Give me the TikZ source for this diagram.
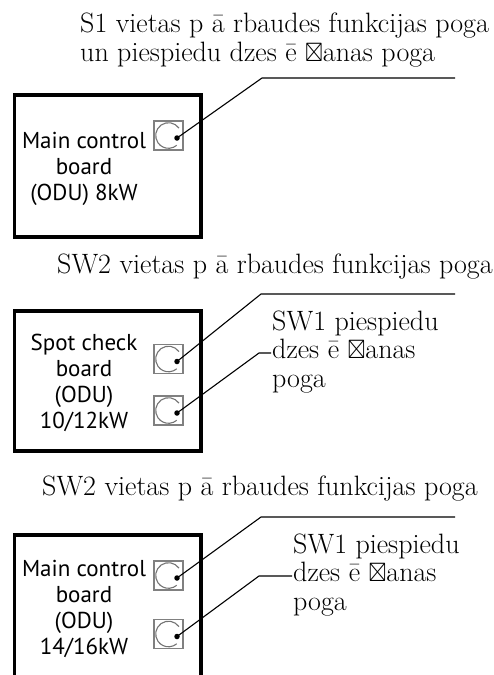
\documentclass[tikz,border=0pt]{standalone}
\usepackage{amssymb}
\usepackage{fontspec}
\newfontfamily\boxfont{PT Sans}
\newcommand{\xbox}{\scalebox{0.82}[0.95]{$\boxtimes$}}
\begin{document}
\begin{tikzpicture}[x=1pt,y=-1pt]
\useasboundingbox (0,0) rectangle (493,675);
\tikzset{
  board/.style={draw, line width=3.5pt, inner sep=0pt},
  boardtext/.style={font=\boxfont\fontsize{23}{26}\selectfont, align=center, inner sep=0pt, anchor=base},
  lbl/.style={font=\fontsize{28}{28.5}\selectfont, inner sep=0pt, anchor=base west, align=left},
  leader/.style={line width=1.1pt},
  dotmark/.style={circle, fill=black, inner sep=0pt, minimum size=5.5pt},
  button/.pic={
    \draw[black!50, line width=1.2pt] (-14.5,-14.5) rectangle (14.5,14.5);
    \draw[black!55, line width=1.1pt] (-35:12.8) arc[start angle=-35, end angle=-310, radius=12.8];
    \node[dotmark] (-dot) at (8.5,2.5) {};
  }
}
% ---------- board 1
\node[board, minimum width=186.5pt, minimum height=142pt] (B1) at (107.75,166) {};
\node[boardtext] (B1t) at (84,200) {Main control\\board\\(ODU) 8kW};
\pic (s1) at (168.5,135.5) {button};
\node[lbl] (T1) at (80,61) {S1 vietas p ā rbaudes funkcijas poga\\un piespiedu dzes ē \xbox anas poga};
\coordinate (k1) at (262,78);
\coordinate (e1) at (455,78);
\draw[leader] (s1-dot.center) -- (k1) -- (e1);

% ---------- board 2
\node[board, minimum width=186.5pt, minimum height=140pt] (B2) at (107.75,381) {};
\node[boardtext] (B2t) at (84,428) {Spot check\\board\\(ODU)\\10/12kW};
\pic (s2a) at (168.5,359) {button};
\pic (s2b) at (168.5,410.5) {button};
\node[lbl] (T2) at (57,273) {SW2 vietas p ā rbaudes funkcijas poga};
\node[lbl] (T3) at (272,387) {SW1 piespiedu\\dzes ē \xbox anas\\poga};
\coordinate (k2) at (261,294);
\coordinate (e2) at (455,294);
\draw[leader] (s2a-dot.center) -- (k2) -- (e2);
\coordinate (k3) at (259,353);
\coordinate (e3) at (271,353);
\draw[leader] (s2b-dot.center) -- (k3) -- (e3);

% ---------- board 3 (cut off at the bottom)
\coordinate (B3bl) at (14.5,676);
\coordinate (B3tl) at (14.5,535);
\coordinate (B3tr) at (201,535);
\coordinate (B3br) at (201,676);
\draw[line width=3.5pt] (B3bl) -- (B3tl) -- (B3tr) -- (B3br);
\node[boardtext] (B3t) at (84,654) {Main control\\board\\(ODU)\\14/16kW};
\pic (s3a) at (168.5,575.5) {button};
\pic (s3b) at (168.5,634) {button};
\node[lbl] (T4) at (42,495) {SW2 vietas p ā rbaudes funkcijas poga};
\node[lbl] (T5) at (293,610) {SW1 piespiedu\\dzes ē \xbox anas\\poga};
\coordinate (k4) at (261,517);
\coordinate (e4) at (455,517);
\draw[leader] (s3a-dot.center) -- (k4) -- (e4);
\coordinate (k5) at (259,576);
\coordinate (e5) at (292,576);
\draw[leader] (s3b-dot.center) -- (k5) -- (e5);
\end{tikzpicture}
\end{document}
